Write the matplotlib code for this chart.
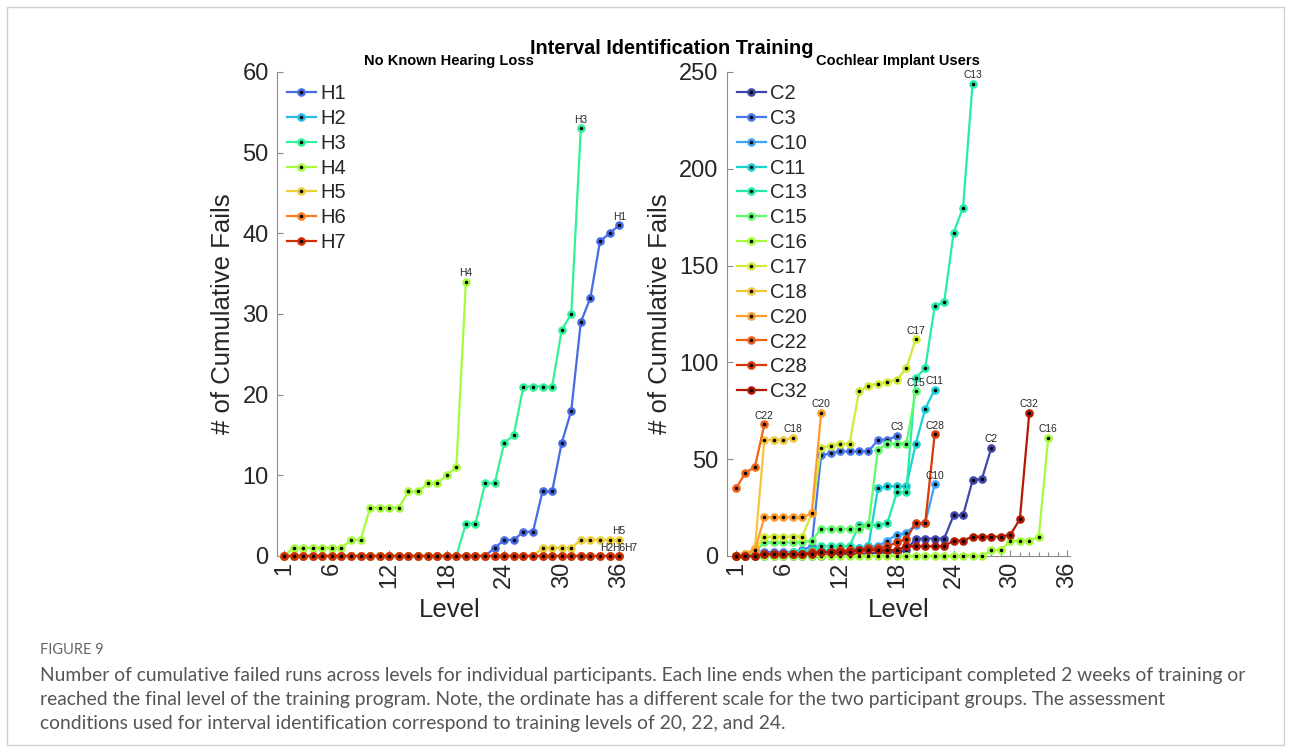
import matplotlib
matplotlib.use('Agg')
import matplotlib.pyplot as plt
import numpy as np
from matplotlib.patches import Rectangle
from matplotlib.ticker import FixedLocator, MultipleLocator

plt.rcParams['font.family'] = ['Liberation Sans', 'DejaVu Sans']

# ---------------- data ----------------
H_names = ['H1', 'H2', 'H3', 'H4', 'H5', 'H6', 'H7']
H1 = [0,0,0,0,0,0,0,0,0,0,0,0,0,0,0,0,0,0,0,0,0,0,1,2,2,3,3,8,8,14,18,29,32,39,40,41]
H2 = [0,0,0,0,0,0,0,0,0,0,0,0,0,0,0,0,0,0,0,0,0,0,0,0,0,0,0,0,0,0,0,0,0,0,0,0]
H3 = [0,0,0,0,0,0,0,0,0,0,0,0,0,0,0,0,0,0,0,4,4,9,9,14,15,21,21,21,21,28,30,53]
H4 = [0,1,1,1,1,1,1,2,2,6,6,6,6,8,8,9,9,10,11,34]
H5 = [0,0,0,0,0,0,0,0,0,0,0,0,0,0,0,0,0,0,0,0,0,0,0,0,0,0,0,1,1,1,1,2,2,2,2,2]
H6 = [0,0,0,0,0,0,0,0,0,0,0,0,0,0,0,0,0,0,0,0,0,0,0,0,0,0,0,0,0,0,0,0,0,0,0,0]
H7 = [0,0,0,0,0,0,0,0,0,0,0,0,0,0,0,0,0,0,0,0,0,0,0,0,0,0,0,0,0,0,0,0,0,0,0,0]
H_series = [H1, H2, H3, H4, H5, H6, H7]

C_names = ['C2', 'C3', 'C10', 'C11', 'C13', 'C15', 'C16', 'C17', 'C18', 'C20', 'C22', 'C28', 'C32']
C2  = [0,0,0,0,0,0,0,0,0,0,1,1,1,1,1,2,2,2,3,9,9,9,9,21,21,39,40,56]
C3  = [0,0,1,2,2,2,2,3,5,52,53,54,54,54,54,60,60,62]
C10 = [0,0,0,1,1,1,1,2,2,2,3,3,3,4,5,5,8,11,12,16,17,37]
C11 = [0,0,0,0,1,1,1,2,2,3,3,3,3,4,5,35,36,36,36,58,76,86]
C13 = [0,0,1,1,1,1,2,2,3,5,5,5,5,16,16,16,17,33,33,92,97,129,131,167,180,244]
C15 = [0,1,2,7,7,7,7,7,8,14,14,14,14,14,16,55,58,58,58,85]
C16 = [0,0,0,0,0,0,0,0,0,0,0,0,0,0,0,0,0,0,0,0,0,0,0,0,0,0,0,3,3,8,8,8,10,61]
C17 = [0,1,3,10,10,10,10,10,22,56,57,58,58,85,88,89,90,91,97,112]
C18 = [0,1,4,60,60,60,61]
C20 = [0,1,3,20,20,20,20,20,22,74]
C22 = [35,43,46,68]
C28 = [0,0,0,1,1,1,1,1,2,2,2,3,3,3,4,4,5,7,9,17,17,63]
C32 = [0,0,0,1,1,1,1,1,1,2,2,2,2,3,3,3,3,3,5,5,5,5,5,8,8,10,10,10,10,11,19,74]
C_series = [C2, C3, C10, C11, C13, C15, C16, C17, C18, C20, C22, C28, C32]

x_major = [1, 6, 12, 18, 24, 30, 36]
H_yticks = [0, 10, 20, 30, 40, 50, 60]
C_yticks = [0, 50, 100, 150, 200, 250]

title = 'Interval Identification Training'
H_title = 'No Known Hearing Loss'
C_title = 'Cochlear Implant Users'
caption_head = 'FIGURE 9'
caption_lines = [
    'Number of cumulative failed runs across levels for individual participants. Each line ends when the participant completed 2 weeks of training or',
    'reached the final level of the training program. Note, the ordinate has a different scale for the two participant groups. The assessment',
    'conditions used for interval identification correspond to training levels of 20, 22, and 24.',
]

# ---------------- figure ----------------
W, H = 1292, 752
fig = plt.figure(figsize=(W / 100, H / 100), dpi=100)
fig.patches.append(Rectangle((7 / W, 7 / H), 1277 / W, 738 / H, transform=fig.transFigure,
                             fill=False, edgecolor='#cfcfcf', lw=1.0))

axH = fig.add_axes([277 / W, 196 / H, 345 / W, 484 / H])
axC = fig.add_axes([727 / W, 196 / H, 343 / W, 484 / H])

axis_grey = '#8c8c8c'
text_dark = '#262626'


def draw(ax, names, series, ncolors, xlim, ylim, yticks):
    cmap = plt.get_cmap('turbo')
    cols = [cmap((i + 1) / (ncolors + 1)) for i in range(ncolors)]
    ends = {}
    for name, vals, c in zip(names, series, cols):
        lv = np.arange(1, len(vals) + 1)
        ax.plot(lv, vals, '-', color=c, lw=1.6, marker='o', ms=4.4, mfc='k', mec=c,
                mew=1.8, label=name, clip_on=False, zorder=3)
        ends.setdefault((lv[-1], vals[-1]), []).append(name)
    for (xe, ye), nm in ends.items():
        n = len(nm)
        for k, name in enumerate(nm):
            dx = (k - (n - 1) / 2) * 8.6
            ax.annotate(name, (xe, ye), xytext=(dx, 2.5), textcoords='offset points',
                        ha='center', va='bottom', fontsize=7.4, color=text_dark, zorder=5)
    ax.set_xlim(*xlim)
    ax.set_ylim(*ylim)
    for s in ['top', 'right']:
        ax.spines[s].set_visible(False)
    for s in ['left', 'bottom']:
        ax.spines[s].set_color(axis_grey)
        ax.spines[s].set_linewidth(0.8)
    ax.xaxis.set_major_locator(FixedLocator(x_major))
    ax.xaxis.set_minor_locator(MultipleLocator(1))
    ax.set_yticks(yticks)
    ax.tick_params(axis='both', which='both', direction='in', color=axis_grey,
                   labelcolor=text_dark, width=0.8)
    ax.tick_params(axis='x', which='major', length=4.5, pad=4, labelsize=17, labelrotation=90)
    ax.tick_params(axis='x', which='minor', length=3)
    ax.tick_params(axis='y', which='major', length=4.5, pad=6, labelsize=17)
    ax.set_xlabel('Level', fontsize=18.5, color=text_dark, labelpad=7)
    ax.set_ylabel('# of Cumulative Fails', fontsize=18.5, color=text_dark, labelpad=5)
    ax.patch.set_visible(False)
    leg = ax.legend(loc='upper left', bbox_to_anchor=(0.028, 0.975), frameon=False,
                    fontsize=14.5, handlelength=1.45, handletextpad=0.2, labelspacing=0.29,
                    borderaxespad=0, borderpad=0, numpoints=1)
    for t in leg.get_texts():
        t.set_color(text_dark)


draw(axH, H_names, H_series, 7, (0.27, 36.3), (0, 60), H_yticks)
draw(axC, C_names, C_series, 13, (0.05, 36.3), (0, 250), C_yticks)

fig.text(672 / W, 1 - 48 / H, title, ha='center', va='center', fontsize=14.3, fontweight='bold', color='k')
fig.text(449 / W, 1 - 61 / H, H_title, ha='center', va='center', fontsize=10.5, fontweight='bold', color='k')
fig.text(898 / W, 1 - 61 / H, C_title, ha='center', va='center', fontsize=10.5, fontweight='bold', color='k')

fig.text(40 / W, 1 - 650 / H, caption_head, ha='left', va='center', fontsize=10.5, color='#666666',
         family=['Lato', 'DejaVu Sans'])
for i, line in enumerate(caption_lines):
    fig.text(40 / W, 1 - (675 + 24 * i) / H, line, ha='left', va='center', fontsize=13.85,
             color='#555555', family=['Lato', 'DejaVu Sans'])

fig.savefig('out.png', dpi=100)
